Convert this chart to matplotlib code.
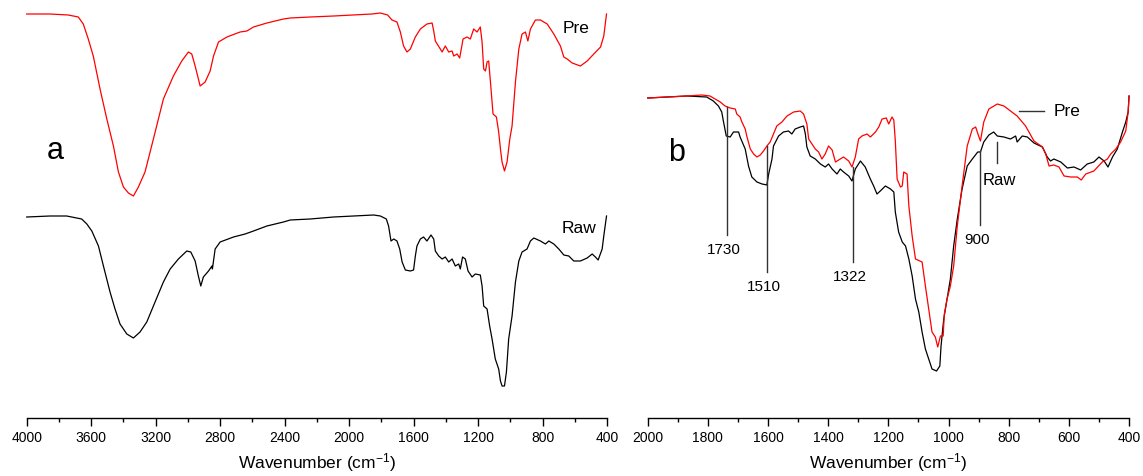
import matplotlib.pyplot as plt
from matplotlib.ticker import MultipleLocator

# spectra: (wavenumber cm-1, transmittance a.u.)
pre_a = [(4000, 404), (3855, 404), (3742, 403), (3680, 401), (3649, 394), (3618, 379), (3587, 362),
         (3545, 329), (3503, 299), (3462, 272), (3431, 246), (3400, 231), (3369, 225), (3338, 222),
         (3307, 231), (3266, 246), (3214, 279), (3152, 319), (3090, 342), (3038, 357), (2997, 366),
         (2976, 364), (2955, 352), (2924, 332), (2893, 336), (2862, 347), (2841, 362), (2810, 376),
         (2758, 381), (2676, 386), (2634, 387), (2593, 391), (2510, 395), (2407, 399), (2365, 400),
         (2241, 401), (2096, 402), (1858, 404), (1806, 405), (1761, 403), (1734, 398), (1703, 396),
         (1682, 386), (1662, 372), (1641, 366), (1620, 369), (1589, 381), (1558, 389), (1517, 394),
         (1485, 395), (1475, 387), (1465, 377), (1434, 369), (1423, 366), (1403, 372), (1382, 366),
         (1361, 367), (1351, 362), (1330, 364), (1314, 360), (1293, 379), (1268, 381), (1248, 379),
         (1227, 389), (1206, 386), (1186, 391), (1175, 376), (1165, 349), (1154, 347), (1144, 356),
         (1134, 357), (1123, 336), (1107, 304), (1086, 301), (1072, 286), (1061, 269), (1051, 256),
         (1036, 247), (1020, 256), (1003, 279), (989, 292), (968, 336), (947, 369), (927, 384),
         (906, 386), (891, 377), (875, 389), (844, 398), (813, 398), (771, 394), (730, 384),
         (689, 372), (668, 361), (647, 359), (616, 355), (565, 352), (523, 357), (482, 364),
         (440, 371), (420, 382), (403, 404)]

raw_a = [(4000, 201), (3855, 202), (3752, 202), (3659, 199), (3627, 194), (3596, 187), (3555, 172),
         (3524, 152), (3483, 126), (3452, 109), (3421, 94), (3379, 84), (3338, 80), (3297, 86),
         (3255, 96), (3214, 112), (3152, 136), (3110, 149), (3059, 159), (3007, 167), (2982, 166),
         (2955, 157), (2935, 142), (2920, 132), (2904, 141), (2872, 147), (2851, 152), (2848, 149),
         (2831, 169), (2800, 176), (2717, 181), (2645, 184), (2593, 187), (2510, 192), (2407, 196),
         (2365, 198), (2241, 199), (2096, 201), (1848, 203), (1806, 202), (1769, 199), (1755, 192),
         (1740, 177), (1723, 179), (1703, 177), (1686, 169), (1671, 156), (1651, 148), (1620, 147),
         (1600, 148), (1589, 162), (1579, 172), (1558, 179), (1538, 181), (1517, 177), (1492, 183),
         (1475, 179), (1465, 167), (1444, 162), (1423, 159), (1403, 161), (1382, 156), (1361, 159),
         (1341, 152), (1320, 154), (1310, 149), (1296, 161), (1279, 159), (1262, 147), (1237, 141),
         (1217, 144), (1186, 143), (1175, 132), (1165, 112), (1144, 109), (1128, 92), (1113, 79),
         (1093, 59), (1072, 49), (1061, 37), (1051, 32), (1036, 32), (1024, 46), (1010, 79),
         (989, 102), (968, 136), (947, 157), (927, 166), (896, 169), (875, 177), (854, 180),
         (813, 177), (782, 174), (761, 177), (730, 174), (699, 169), (668, 163), (637, 162),
         (606, 157), (565, 157), (523, 160), (492, 164), (472, 161), (455, 158), (430, 169),
         (420, 182), (403, 202)]

pre_b = [(2000, 320), (1870, 322), (1820, 323), (1793, 322), (1759, 316), (1743, 312), (1726, 310),
         (1709, 309), (1704, 304), (1693, 301), (1687, 296), (1676, 289), (1670, 281), (1659, 269),
         (1648, 264), (1637, 261), (1626, 263), (1615, 267), (1604, 272), (1593, 276), (1582, 284),
         (1571, 292), (1554, 296), (1537, 302), (1515, 306), (1493, 307), (1482, 304), (1471, 294),
         (1465, 279), (1454, 274), (1443, 269), (1432, 266), (1421, 259), (1410, 264), (1399, 272),
         (1387, 268), (1376, 256), (1360, 259), (1349, 261), (1332, 257), (1321, 251), (1310, 261),
         (1299, 279), (1288, 282), (1271, 284), (1260, 281), (1243, 286), (1232, 291), (1221, 299),
         (1207, 300), (1199, 294), (1188, 301), (1182, 298), (1177, 277), (1171, 239), (1160, 231),
         (1154, 232), (1149, 246), (1138, 244), (1132, 212), (1121, 182), (1110, 159), (1088, 156),
         (1077, 132), (1066, 109), (1055, 86), (1044, 81), (1036, 71), (1027, 82), (1018, 82),
         (1014, 104), (1005, 119), (994, 132), (983, 152), (971, 192), (955, 232), (938, 272),
         (921, 289), (910, 291), (899, 281), (894, 277), (883, 296), (866, 309), (838, 314),
         (816, 312), (794, 307), (772, 302), (744, 292), (716, 277), (688, 271), (677, 264),
         (666, 252), (650, 253), (633, 251), (616, 242), (594, 241), (572, 241), (559, 238),
         (544, 244), (517, 247), (489, 256), (472, 259), (461, 264), (444, 269), (428, 276),
         (411, 287), (403, 306), (400, 322)]

raw_b = [(2000, 320), (1870, 322), (1804, 321), (1782, 317), (1765, 312), (1754, 306), (1748, 296),
         (1739, 282), (1726, 281), (1715, 286), (1698, 286), (1693, 281), (1676, 269), (1665, 252),
         (1654, 241), (1637, 236), (1620, 234), (1604, 233), (1598, 244), (1587, 259), (1582, 272),
         (1565, 282), (1549, 286), (1532, 287), (1521, 284), (1510, 289), (1493, 291), (1482, 292),
         (1476, 284), (1471, 271), (1460, 262), (1443, 259), (1426, 254), (1410, 251), (1399, 254),
         (1387, 249), (1371, 244), (1360, 249), (1349, 246), (1332, 242), (1321, 237), (1310, 249),
         (1293, 257), (1277, 251), (1260, 239), (1249, 232), (1238, 224), (1227, 227), (1210, 232),
         (1193, 229), (1182, 226), (1177, 206), (1166, 186), (1154, 176), (1143, 172), (1132, 159),
         (1121, 142), (1110, 119), (1099, 106), (1088, 86), (1077, 69), (1066, 59), (1055, 49),
         (1040, 47), (1029, 52), (1025, 72), (1016, 99), (1005, 119), (994, 139), (983, 172),
         (971, 199), (955, 229), (938, 252), (921, 259), (903, 266), (894, 266), (883, 276),
         (866, 283), (850, 286), (838, 282), (816, 281), (794, 279), (777, 282), (772, 276),
         (755, 282), (738, 281), (716, 275), (688, 271), (672, 261), (661, 257), (650, 259),
         (627, 256), (605, 250), (583, 251), (561, 248), (539, 254), (517, 256), (500, 261),
         (483, 257), (470, 251), (455, 261), (439, 269), (422, 286), (411, 296), (403, 306),
         (400, 322)]

# marked bands in panel b: (line position, label, line top, line bottom)
bands = [(1736, '1730', 311, 183), (1604, '1510', 272, 146),
         (1318, '1322', 251, 156), (896, '900', 267, 193)]

plt.rcParams['font.family'] = ['Liberation Sans', 'DejaVu Sans']
plt.rcParams['mathtext.fontset'] = 'custom'
plt.rcParams['mathtext.rm'] = 'Liberation Sans'
plt.rcParams['mathtext.it'] = 'Liberation Sans:italic'


def xy(pts):
    return [p[0] for p in pts], [p[1] for p in pts]


fig = plt.figure(figsize=(11.43, 4.77), dpi=100)
ax_a = fig.add_axes([0.02336, 0.1216, 0.5077, 0.8784])
ax_b = fig.add_axes([0.5667, 0.1216, 0.4211, 0.8784])

for ax in (ax_a, ax_b):
    for s in ('left', 'top', 'right'):
        ax.spines[s].set_visible(False)
    ax.spines['bottom'].set_linewidth(1.0)
    ax.set_yticks([])
    ax.set_ylim(0, 419)
    ax.tick_params(axis='x', which='major', direction='out', length=6, width=1, labelsize=10, pad=3)
    ax.tick_params(axis='x', which='minor', direction='out', length=3, width=1)
    ax.set_xlabel('Wavenumber (cm$^{-1}$)', fontsize=12.5, labelpad=4)

# panel a
ax_a.set_xlim(4000, 400)
ax_a.xaxis.set_major_locator(MultipleLocator(400))
ax_a.xaxis.set_minor_locator(MultipleLocator(200))
x, y = xy(pre_a)
ax_a.plot(x, y, color='red', lw=0.9, clip_on=False)
x, y = xy(raw_a)
ax_a.plot(x, y, color='black', lw=0.9, clip_on=False)
ax_a.text(593, 390, 'Pre', fontsize=12.5, ha='center', va='center')
ax_a.text(574, 190, 'Raw', fontsize=12.5, ha='center', va='center')
ax_a.text(3824, 268, 'a', fontsize=22, ha='center', va='center')

# panel b
ax_b.set_xlim(2000, 400)
ax_b.xaxis.set_major_locator(MultipleLocator(200))
ax_b.xaxis.set_minor_locator(MultipleLocator(100))
x, y = xy(raw_b)
ax_b.plot(x, y, color='black', lw=0.9, clip_on=False)
x, y = xy(pre_b)
ax_b.plot(x, y, color='red', lw=0.9, clip_on=False)
for wn, lab, top, bot in bands:
    ax_b.plot([wn, wn], [top, bot], color='#333333', lw=1)
    ax_b.text(wn + 10, bot - 14, lab, fontsize=11, ha='center', va='center')
ax_b.plot([838, 838], [276, 255], color='#333333', lw=1)
ax_b.text(831, 238, 'Raw', fontsize=12, ha='center', va='center')
ax_b.plot([767, 684], [307, 307], color='#333333', lw=1)
ax_b.text(651, 307, 'Pre', fontsize=12.5, ha='left', va='center')
ax_b.text(1904, 266, 'b', fontsize=22, ha='center', va='center')

fig.savefig('out.png', dpi=100)
